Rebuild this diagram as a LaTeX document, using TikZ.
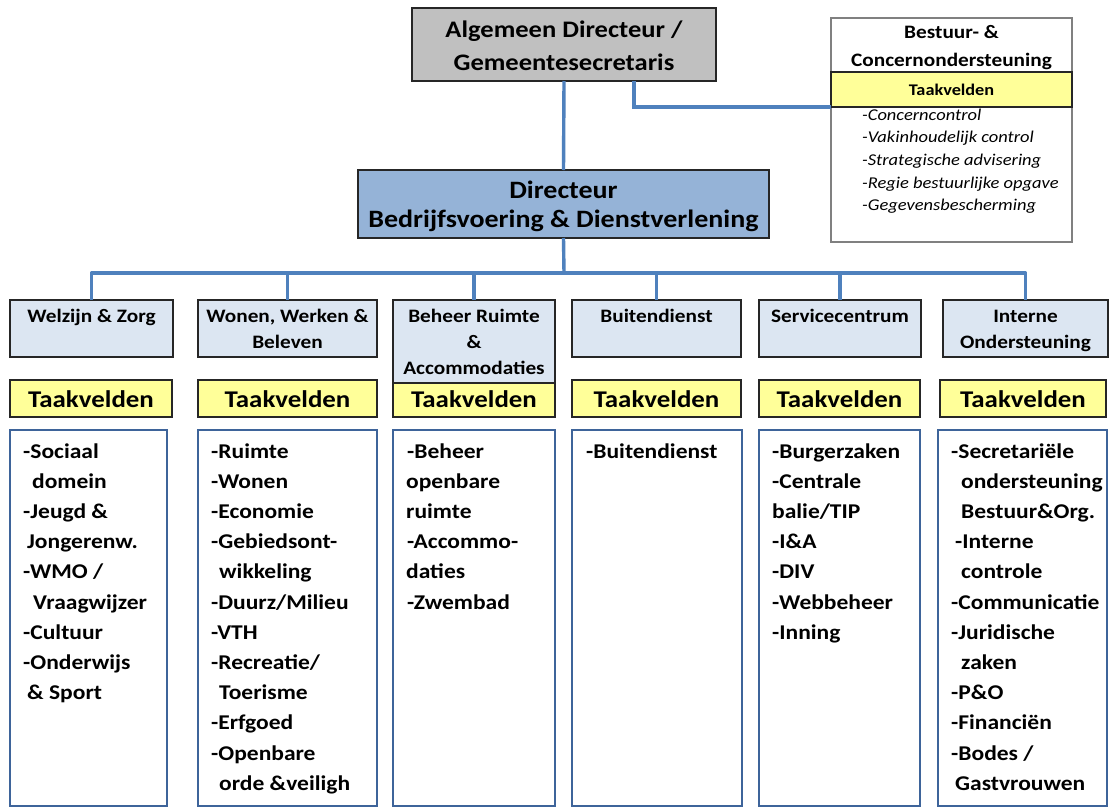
\documentclass[tikz,border=0pt]{standalone}
\usepackage{fontspec}
\setmainfont{Carlito}
\newfontfamily\wide{Carlito}[FakeStretch=1.12]
\definecolor{connc}{HTML}{4F81BD}
\definecolor{topgray}{HTML}{C0C0C0}
\definecolor{dirblue}{HTML}{95B3D7}
\definecolor{deptblue}{HTML}{DCE6F2}
\definecolor{tyellow}{HTML}{FFFF99}
\definecolor{contblue}{HTML}{3E649A}
\newcommand\colitems[3]{%
  \foreach \dx/\t [count=\i] in {#3} {%
    \node[item] (#1-\i) at ({#2+\dx},{458+30.2*(\i-1)}) {\t};}}
\begin{document}
\begin{tikzpicture}[x=1pt,y=-1pt,
  box/.style={draw=black!85, line width=1.3pt, anchor=north west, inner sep=0pt, outer sep=0pt},
  contbox/.style={draw=contblue, line width=2.6pt, fill=white, anchor=north west, inner sep=0pt, outer sep=0pt},
  conn/.style={draw=connc, line width=3.4pt},
  txt/.style={anchor=base, inner sep=0pt},
  ttl/.style={txt, font=\wide\bfseries\fontsize{19}{23}\selectfont},
  tkv/.style={txt, font=\wide\bfseries\fontsize{24}{28}\selectfont},
  item/.style={anchor=base west, inner sep=0pt, font=\wide\bfseries\fontsize{21}{26}\selectfont},
  ritem/.style={anchor=base west, inner sep=0pt, font=\wide\itshape\fontsize{16.5}{20}\selectfont}]
\useasboundingbox[fill=white] (0,0) rectangle (1119,809);

% top box
\node[box, fill=topgray, minimum width=304, minimum height=73] (top) at (412,8) {};
\node[txt, font=\wide\bfseries\fontsize{23.7}{28}\selectfont] (top1) at (564,37) {Algemeen Directeur /};
\node[txt, font=\wide\bfseries\fontsize{23.7}{28}\selectfont] (top2) at (564,70) {Gemeentesecretaris};

% directeur
\node[box, fill=dirblue, minimum width=411, minimum height=68] (dir) at (358,170) {};
\node[txt, font=\wide\bfseries\fontsize{25}{29}\selectfont] (dir1) at (563.5,198) {Directeur};
\node[txt, font=\wide\bfseries\fontsize{25}{29}\selectfont] (dir2) at (563.5,227) {Bedrijfsvoering \& Dienstverlening};

% right box
\node[draw=black!50, line width=1.2pt, fill=white, anchor=north west, inner sep=0pt, outer sep=0pt,
      minimum width=241, minimum height=224] (rb) at (831,18) {};
\node[box, fill=tyellow, minimum width=241, minimum height=35] (yb) at (831,72) {};
\node[ttl] (rb1) at (951.5,38) {Bestuur- \&};
\node[ttl] (rb2) at (951.5,66) {Concernondersteuning};
\node[txt, font=\wide\bfseries\fontsize{16.3}{20}\selectfont] (rb3) at (951.5,95) {Taakvelden};
\node[ritem] (ri1) at (862,120) {-Concerncontrol};
\node[ritem] (ri2) at (862,142.7) {-Vakinhoudelijk control};
\node[ritem] (ri3) at (862,165.4) {-Strategische advisering};
\node[ritem] (ri4) at (862,188.1) {-Regie bestuurlijke opgave};
\node[ritem] (ri5) at (862,210.8) {-Gegevensbescherming};

% department boxes
\node[box, fill=deptblue, minimum width=163, minimum height=57] (d1) at (10,300) {};
\node[box, fill=deptblue, minimum width=179, minimum height=57] (d2) at (198,300) {};
\node[box, fill=deptblue, minimum width=162, minimum height=83] (d3) at (393,300) {};
\node[box, fill=deptblue, minimum width=169, minimum height=57] (d4) at (572,300) {};
\node[box, fill=deptblue, minimum width=162, minimum height=57] (d5) at (759,300) {};
\node[box, fill=deptblue, minimum width=165, minimum height=57] (d6) at (943,300) {};

\node[ttl] (d1a) at (91.5,322) {Welzijn \& Zorg};
\node[ttl] (d2a) at (287.5,322) {Wonen, Werken \&};
\node[ttl] (d2b) at (287.5,348) {Beleven};
\node[ttl] (d3a) at (474,322) {Beheer Ruimte};
\node[ttl] (d3b) at (474,348) {\&};
\node[ttl] (d3c) at (474,374) {Accommodaties};
\node[ttl] (d4a) at (656.5,322) {Buitendienst};
\node[ttl] (d5a) at (840,322) {Servicecentrum};
\node[ttl] (d6a) at (1025.5,322) {Interne};
\node[ttl] (d6b) at (1025.5,348) {Ondersteuning};

% yellow Taakvelden
\node[box, fill=tyellow, minimum width=162, minimum height=37] (y1) at (10,380) {};
\node[box, fill=tyellow, minimum width=179, minimum height=37] (y2) at (198,380) {};
\node[box, fill=tyellow, minimum width=162, minimum height=34] (y3) at (393,383) {};
\node[box, fill=tyellow, minimum width=169, minimum height=37] (y4) at (572,380) {};
\node[box, fill=tyellow, minimum width=161, minimum height=37] (y5) at (759,380) {};
\node[box, fill=tyellow, minimum width=166, minimum height=37] (y6) at (940,380) {};
\foreach \k in {1,...,6} {\node[tkv] (y\k t) at (y\k.center |- 0,407) {Taakvelden};}

% content boxes
\node[contbox, minimum width=157, minimum height=376] (c1) at (10,430) {};
\node[contbox, minimum width=179, minimum height=376] (c2) at (198,430) {};
\node[contbox, minimum width=162, minimum height=376] (c3) at (393,430) {};
\node[contbox, minimum width=170, minimum height=376] (c4) at (572,430) {};
\node[contbox, minimum width=161, minimum height=376] (c5) at (759,430) {};
\node[contbox, minimum width=169, minimum height=376] (c6) at (938,430) {};

\colitems{t1}{23}{0/{-Sociaal},9/{domein},0/{-Jeugd \&},4/{Jongerenw.},0/{-WMO /},10/{Vraagwijzer},0/{-Cultuur},0/{-Onderwijs},4/{\& Sport}}
\colitems{t2}{211}{0/{-Ruimte},0/{-Wonen},0/{-Economie},0/{-Gebiedsont-},8/{wikkeling},0/{-Duurz/Milieu},0/{-VTH},0/{-Recreatie/},8/{Toerisme},0/{-Erfgoed},0/{-Openbare},8/{orde \&veiligh}}
\colitems{t3}{406}{1/{-Beheer},0/{openbare},0/{ruimte},1/{-Accommo-},0/{daties},1/{-Zwembad}}
\colitems{t4}{586}{0/{-Buitendienst}}
\colitems{t5}{772}{0/{-Burgerzaken},0/{-Centrale},0/{balie/TIP},0/{-I\&A},0/{-DIV},0/{-Webbeheer},0/{-Inning}}
\colitems{t6}{951}{0/{-Secretariële},10/{ondersteuning},10/{Bestuur\&Org.},4/{-Interne},10/{controle},0/{-Communicatie},0/{-Juridische},10/{zaken},0/{-P\&O},0/{-Financiën},0/{-Bodes /},4/{Gastvrouwen}}

% connectors
\coordinate (bus) at (564,273);
\draw[conn] (top.south) -- (dir.north);
\draw[conn] ([xshift=70pt]top.south) |- (yb.south west);
\draw[conn] (dir.south) -- (bus);
\draw[conn, line join=round] (d1.north) -- (d1.north |- bus) -- (d6.north |- bus) -- (d6.north);
\foreach \k in {2,...,5} {\draw[conn] (d\k.north) -- (d\k.north |- bus);}
\end{tikzpicture}
\end{document}
